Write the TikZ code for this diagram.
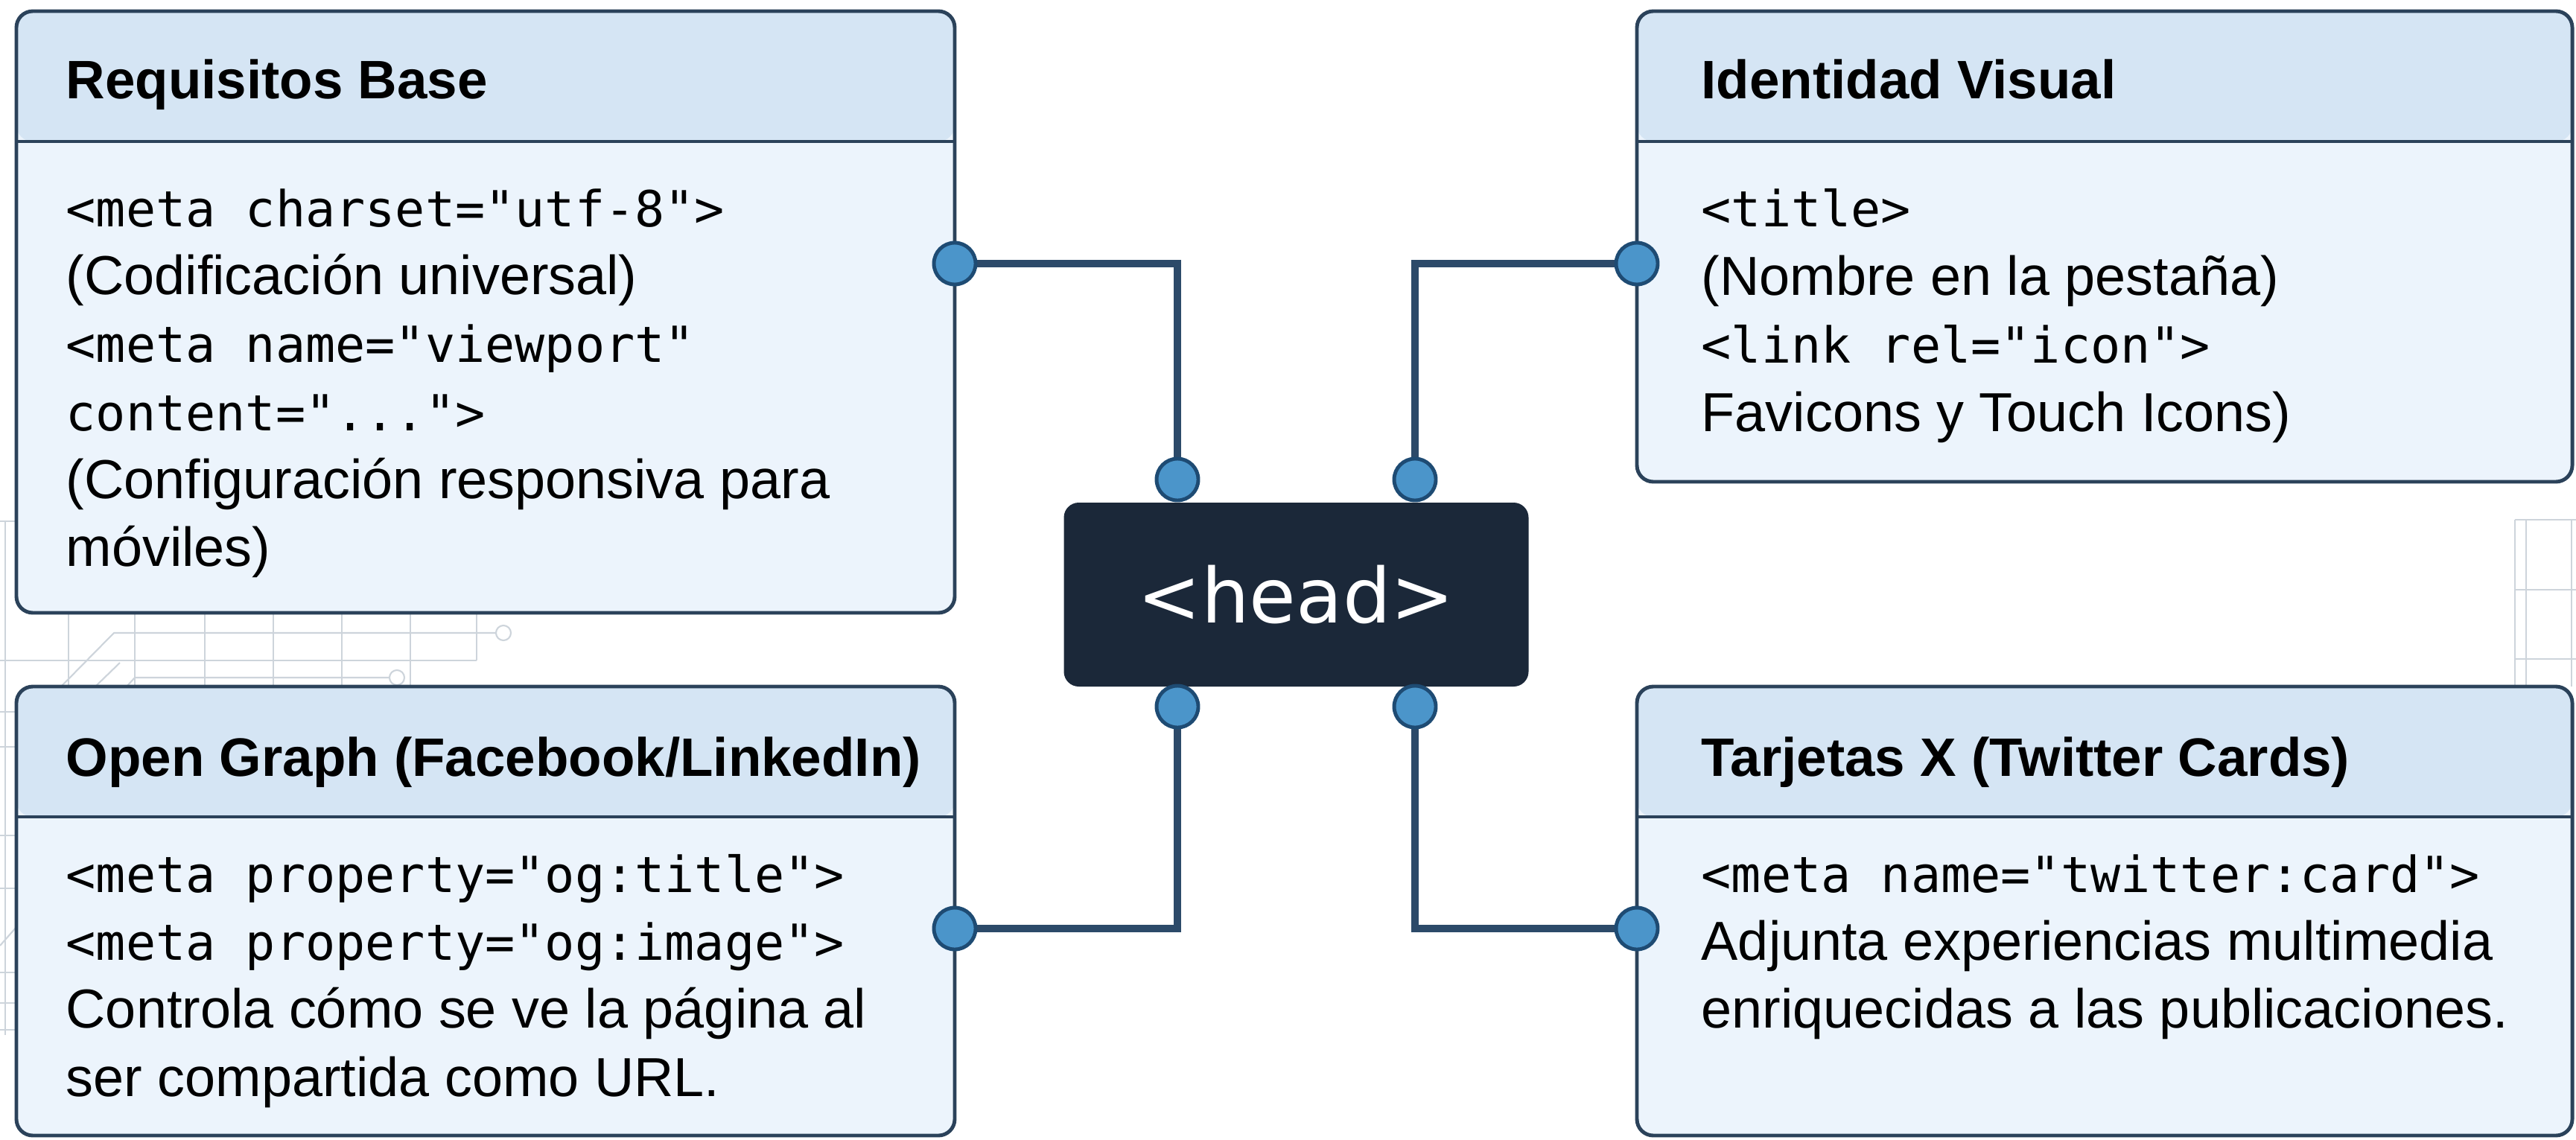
\documentclass[tikz,border=0pt]{standalone}
\usepackage{fontspec}
\setmainfont{Liberation Sans}
\setsansfont{Liberation Sans}
\setmonofont{DejaVu Sans Mono}
\newfontfamily\headfont{DejaVu Sans}
\usetikzlibrary{positioning}

\definecolor{edge}{HTML}{2B425A}
\definecolor{hdr}{HTML}{D5E5F4}
\definecolor{body}{HTML}{ECF4FC}
\definecolor{wire}{HTML}{2C4A69}
\definecolor{dotfill}{HTML}{4B95CA}
\definecolor{dotedge}{HTML}{1E4B73}
\definecolor{headbg}{HTML}{1B2839}
\definecolor{deco}{HTML}{CDD4DB}

\newcommand{\tg}[1]{{\fontsize{19}{26}\selectfont\ttfamily #1}}
\newcommand{\lead}{\rule{0pt}{20pt}}

\tikzset{
  card/.style={draw=edge, line width=1.4pt, fill=body, rounded corners=0.22cm,
    inner sep=0pt, outer sep=0pt, anchor=north west,
    path picture={
      \fill[hdr] (path picture bounding box.north west) rectangle ([yshift=-1.75cm]path picture bounding box.north east);
      \draw[edge, line width=1.4pt] ([yshift=-1.75cm]path picture bounding box.north west) -- ([yshift=-1.75cm]path picture bounding box.north east);
    }},
  ttl/.style={anchor=base west, inner sep=0pt, font=\fontsize{20.7}{26}\selectfont\bfseries},
  txt/.style={anchor=north west, inner sep=0pt, align=left, font=\fontsize{21}{26}\selectfont},
  headbox/.style={fill=headbg, rounded corners=0.2cm, minimum width=6.24cm, minimum height=2.47cm,
    text=white, font=\headfont\fontsize{29}{34}\selectfont},
  wireline/.style={draw=wire, line width=2.6pt, line join=miter},
  dot/.style={circle, fill=dotfill, draw=dotedge, line width=1.4pt, minimum size=0.56cm, inner sep=0pt},
  decoline/.style={draw=deco, line width=0.6pt}
}

\begin{document}
\begin{tikzpicture}
\fill[white] (0,0) rectangle (34.59,-15.30);
\useasboundingbox (0,0) rectangle (34.59,-15.30);

\foreach \x in {0.92,1.81,2.75,3.67,4.59,5.51}
  \draw[decoline] (\x,-8.23) -- (\x,-9.22);
\draw[decoline] (6.40,-8.23) -- (6.40,-8.87);
\draw[decoline] (0,-8.87) -- (6.40,-8.87);
\draw[decoline] (0.82,-9.22) -- (1.53,-8.50) -- (6.66,-8.50);
\draw[decoline] (6.76,-8.50) circle (0.1);
\draw[decoline] (1.28,-9.22) -- (1.61,-8.90);
\draw[decoline] (1.70,-9.22) -- (1.81,-9.10) -- (5.23,-9.10);
\draw[decoline] (5.33,-9.10) circle (0.1);
\draw[decoline] (0.07,-7.00) -- (0.07,-13.90);
\foreach \y in {-7.00,-9.56,-10.03,-11.22,-11.93,-13.06,-13.47,-13.83}
  \draw[decoline] (0,\y) -- (0.22,\y);
\draw[decoline] (0,-12.70) -- (0.22,-12.45);
\foreach \x in {33.77,33.92,34.53}
  \draw[decoline] (\x,-6.98) -- (\x,-9.22);
\foreach \y in {-6.98,-7.92,-8.85}
  \draw[decoline] (33.77,\y) -- (34.59,\y);

\coordinate (a1) at (12.82,-3.54);
\coordinate (a2) at (21.98,-3.54);
\coordinate (a3) at (12.82,-12.47);
\coordinate (a4) at (21.98,-12.47);
\coordinate (h1) at (15.81,-6.44);
\coordinate (h2) at (19.00,-6.44);
\coordinate (h3) at (15.81,-9.49);
\coordinate (h4) at (19.00,-9.49);

\node[card, minimum width=12.60cm, minimum height=8.08cm] (req) at (0.22,-0.15) {};
\node[card, minimum width=12.56cm, minimum height=6.32cm] (vis) at (21.98,-0.15) {};
\node[card, minimum width=12.60cm, minimum height=6.03cm] (og) at (0.22,-9.22) {};
\node[card, minimum width=12.56cm, minimum height=6.03cm] (tw) at (21.98,-9.22) {};

\node[ttl] (reqT) at (0.88,-1.33) {Requisitos Base};
\node[ttl] (visT) at (22.84,-1.33) {Identidad Visual};
\node[ttl] (ogT) at (0.88,-10.42) {Open Graph (Facebook/LinkedIn)};
\node[ttl] (twT) at (22.84,-10.42) {Tarjetas X (Twitter Cards)};

\node[txt] (reqB) at (0.88,-2.33) {\lead\tg{<meta charset="utf-8">}\\
  (Codificación universal)\\
  \tg{<meta name="viewport"}\\
  \tg{content="...">}\\
  (Configuración responsiva para\\
  móviles)};
\node[txt] (visB) at (22.84,-2.34) {\lead\tg{<title>}\\
  (Nombre en la pestaña)\\
  \tg{<link rel="icon">}\\
  Favicons y Touch Icons)};
\node[txt] (ogB) at (0.88,-11.27) {\lead\tg{<meta property="og:title">}\\
  \tg{<meta property="og:image">}\\
  Controla cómo se ve la página al\\
  ser compartida como URL.};
\node[txt] (twB) at (22.84,-11.27) {\lead\tg{<meta name="twitter:card">}\\
  Adjunta experiencias multimedia\\
  enriquecidas a las publicaciones.};

\node[headbox] (head) at (17.405,-7.985) {<head>};

\draw[wireline] (a1) -| (h1);
\draw[wireline] (a2) -| (h2);
\draw[wireline] (a3) -| (h3);
\draw[wireline] (a4) -| (h4);

\foreach \p in {a1,a2,a3,a4,h1,h2,h3,h4}
  \node[dot] (d\p) at (\p) {};
\end{tikzpicture}
\end{document}
